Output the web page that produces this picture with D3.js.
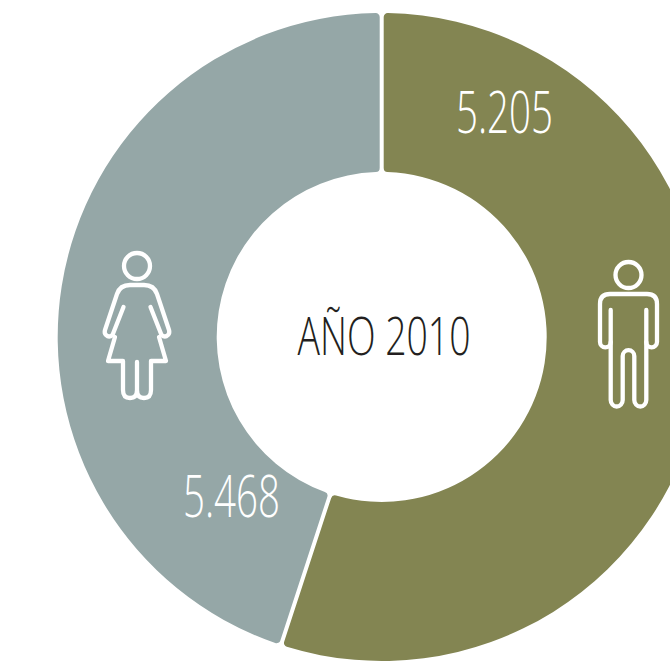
<!DOCTYPE html>
<html lang="es">
<head>
<meta charset="utf-8">
<script src="https://cdn.jsdelivr.net/npm/d3@7"></script>
<style>
html,body{margin:0;padding:0;background:#fff;overflow:hidden}
svg{display:block}
text{font-family:"Open Sans",sans-serif}
</style>
</head>
<body>
<script>
// Slice order, clockwise from 12 o'clock
const categories = ["Hombres", "Mujeres"];
// Printed labels
const valueLabels = ["5.205", "5.468"];
// Slice shares as measured from the drawn angles (the picture's slices do not follow the printed values)
const sliceShares = [55.03, 44.97];
const sliceColors = ["#838552", "#95a7a7"];
const centerTitle = "AÑO 2010";

const width = 670, height = 666;
const cx = 381.7, cy = 337, rOuter = 324, rInner = 165;

const svg = d3.select("body").append("svg")
  .attr("width", width).attr("height", height)
  .attr("viewBox", [0, 0, width, height]);

const pie = d3.pie().sort(null).value((_, i) => sliceShares[i]);
const arc = d3.arc()
  .innerRadius(rInner).outerRadius(rOuter)
  .cornerRadius(4).padRadius(rOuter).padAngle(4 / rOuter);

svg.append("g").attr("transform", `translate(${cx},${cy})`)
  .selectAll("path")
  .data(pie(categories))
  .join("path")
  .attr("d", arc)
  .attr("fill", (_, i) => sliceColors[i]);

function label(text, x, y, size, len, fill, weight) {
  svg.append("text")
    .attr("x", x).attr("y", y)
    .attr("font-size", size).attr("font-weight", weight)
    .attr("fill", fill)
    .attr("textLength", len).attr("lengthAdjust", "spacingAndGlyphs")
    .text(text);
}
label(valueLabels[0], 456, 132.5, 58, 97, "#fff", 300);
label(valueLabels[1], 183, 516.5, 58, 97, "#fff", 300);
label(centerTitle, 297.5, 354.5, 54, 173, "#231f20", 300);

// Pictograms
const icons = svg.append("g")
  .attr("fill", "none").attr("stroke", "#fff").attr("stroke-width", 4.3)
  .attr("stroke-linecap", "round").attr("stroke-linejoin", "round");

// Woman
icons.append("circle").attr("cx", 137).attr("cy", 266).attr("r", 13);
icons.append("path").attr("d",
  "M123.5 307 L112.5 335 Q109 338 106 335 Q104 333 105 330 L117 294 Q120 285 130 285 H144 Q154 285 157 294 L169 330 Q170 333 168 335 Q165 338 161.5 335 L150.5 307");
icons.append("path").attr("d",
  "M115 337 L108 361 H123 V390 Q123 398 130 398 Q137 398 137 390 V362 M137 390 Q137 398 144 398 Q151 398 151 390 V361 H166 L159 337");

// Man
icons.append("circle").attr("cx", 628.5).attr("cy", 275).attr("r", 13);
icons.append("path").attr("d",
  "M610.7 310 V400 A6 6.5 0 0 0 622.7 400 V356 A4.5 4.5 0 0 1 634.3 356 V400 A6 6.5 0 0 0 646.3 400 V310");
icons.append("path").attr("d",
  "M610.7 342 A5.3 5.3 0 0 1 600 342 V304 Q600 294 610 294 H647 Q657 294 657 304 V342 A5.3 5.3 0 0 1 646.3 342");
</script>
</body>
</html>
